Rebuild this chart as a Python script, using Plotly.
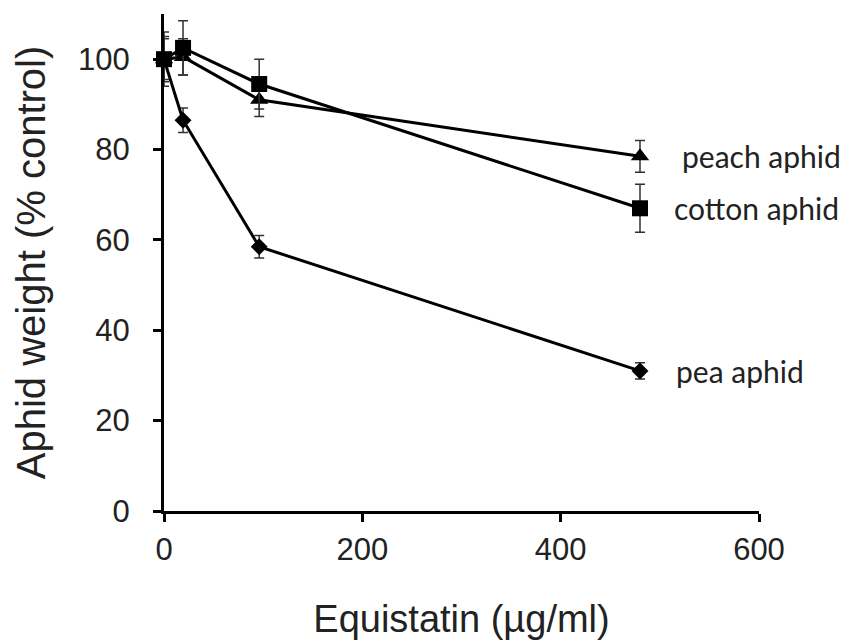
import plotly.graph_objects as go

dose = [0, 19.2, 96, 480]

peach = [100, 100.5, 91, 78.5]
peach_err = [4.5, 4.0, 3.7, 3.5]

cotton = [100, 102.5, 94.5, 67]
cotton_err = [6, 6, 5.5, 5.3]

pea = [100, 86.5, 58.5, 31]
pea_err = [5, 2.7, 2.5, 1.8]

names = ["peach aphid", "cotton aphid", "pea aphid"]

x_ticks = [0, 200, 400, 600]
y_ticks = [0, 20, 40, 60, 80, 100]

fig = go.Figure()

series = [
    (pea, pea_err, "diamond", 13, names[2], 34),
    (peach, peach_err, "triangle-up", 16, names[0], 40),
    (cotton, cotton_err, "square", 16, names[1], 32),
]

for vals, err, sym, sz, nm, shift in series:
    fig.add_trace(go.Scatter(
        x=dose, y=vals, mode="lines+markers",
        line=dict(color="black", width=3),
        marker=dict(symbol=sym, size=sz, color="black"),
        error_y=dict(type="data", array=err, visible=True,
                     color="#333333", thickness=1.5, width=5),
        cliponaxis=False, showlegend=False, name=nm,
    ))
    fig.add_annotation(
        x=dose[-1], y=vals[-1], xref="x", yref="y",
        text=nm, showarrow=False,
        xanchor="left", yanchor="middle", xshift=shift,
        font=dict(family="Lato, Carlito, sans-serif", size=30, color="#222222"),
    )

axis_font = dict(family="Liberation Sans, Arial, sans-serif", size=31, color="#222222")

fig.update_xaxes(
    range=[0, 600], tickvals=x_ticks, ticktext=[str(v) for v in x_ticks],
    showline=True, linecolor="black", linewidth=3,
    ticks="outside", ticklen=8, tickwidth=2.5, tickcolor="black",
    showgrid=False, zeroline=False, tickfont=axis_font, automargin=False,
    ticklabelstandoff=1,
    title=dict(text="Equistatin (µg/ml)", font=dict(family="Liberation Sans, Arial, sans-serif", size=38, color="#222222"), standoff=46),
)
fig.update_yaxes(
    range=[0, 110], tickvals=y_ticks, ticktext=[str(v) for v in y_ticks],
    showline=True, linecolor="black", linewidth=3,
    ticks="outside", ticklen=8, tickwidth=2.5, tickcolor="black",
    showgrid=False, zeroline=False, tickfont=axis_font, automargin=False,
    ticklabelstandoff=17,
    title=dict(text="Aphid weight (% control)", font=dict(family="Liberation Sans, Arial, sans-serif", size=40, color="#222222"), standoff=21),
)

# the page body has an 8px margin, so the figure is drawn 8px in from the top-left
fig.update_layout(
    width=844, height=632,
    margin=dict(l=156, r=93, t=6, b=129),
    plot_bgcolor="white", paper_bgcolor="white",
)

fig.write_html("out.html")
